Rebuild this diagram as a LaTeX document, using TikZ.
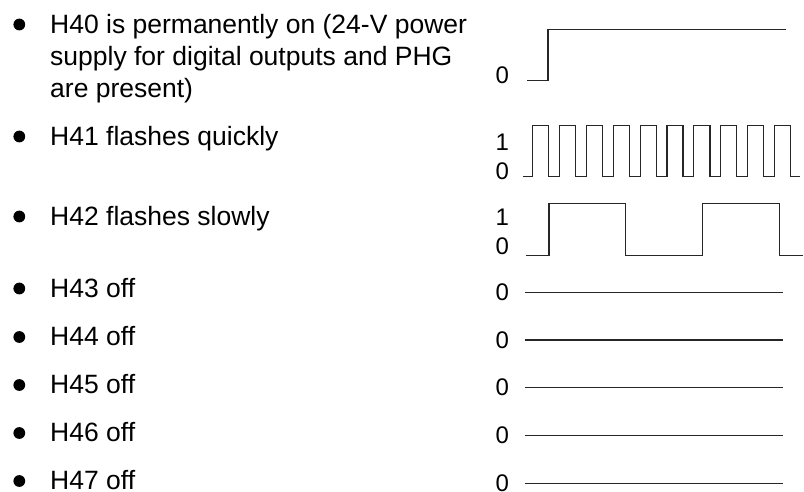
\documentclass[tikz,border=0pt]{standalone}
\usepackage{fontspec}
\setmainfont{Liberation Sans}
\begin{document}
\begin{tikzpicture}[x=1pt,y=-1pt,
  txt/.style={anchor=base west,inner sep=0pt,font=\fontsize{26.5}{32}\selectfont},
  lvl/.style={anchor=base west,inner sep=0pt,font=\fontsize{24}{28}\selectfont},
  bul/.style={circle,fill=black,inner sep=0pt,minimum size=11.8pt},
  sig/.style={line width=1.2pt,black!85}]
\useasboundingbox (0,0) rectangle (804,491);
% bullets and texts
\node[txt,align=left] (t40) at (50,33) {H40 is permanently on (24-V power};
\node[txt] (t40b) at (50,65) {supply for digital outputs and PHG};
\node[txt] (t40c) at (50,97) {are present)};
\node[txt] (t41) at (50,145) {H41 flashes quickly};
\node[txt] (t42) at (50,225) {H42 flashes slowly};
\node[txt] (t43) at (50,297) {H43 off};
\node[txt] (t44) at (50,345.5) {H44 off};
\node[txt] (t45) at (50,393.5) {H45 off};
\node[txt] (t46) at (50,441.5) {H46 off};
\node[txt] (t47) at (50,489.5) {H47 off};
\foreach \n/\y in {b40/33,b41/145,b42/225,b43/297,b44/345.5,b45/393.5,b46/441.5,b47/489.5}
  \node[bul] (\n) at (19.3,\y-8.5) {};
% level labels
\node[lvl] (l40) at (495.5,83) {0};
\node[lvl] (l41h) at (495.5,150) {1};
\node[lvl] (l41l) at (495.5,179.5) {0};
\node[lvl] (l42h) at (495.5,225) {1};
\node[lvl] (l42l) at (495.5,254) {0};
\foreach \n/\y in {l43/292.3,l44/340,l45/387.7,l46/435.7,l47/483.7}
  \node[lvl,anchor=west] (\n) at (495.5,\y) {0};
% waveforms
\draw[sig] (527.3,80.3) -- (548,80.3) -- (548,29.3) -- (785.7,29.3);
\draw[sig] (523.3,176.7) foreach \i in {0,...,9} {
   -- ({532.7+26.85*\i},176.7) -- ({532.7+26.85*\i},125.7)
   -- ({548.7+26.87*\i},125.7) -- ({548.7+26.87*\i},176.7) } -- (800,176.7);
\draw[sig] (526,255.7) -- (549,255.7) -- (549,203.3) -- (625.3,203.3) -- (625.3,255.7)
   -- (702.7,255.7) -- (702.7,203.3) -- (779.3,203.3) -- (779.3,255.7) -- (802.7,255.7);
\foreach \y in {292.3,340,387.7,435.7,483.7}
  \draw[sig] (524.7,\y) -- (782.7,\y);
\end{tikzpicture}
\end{document}
